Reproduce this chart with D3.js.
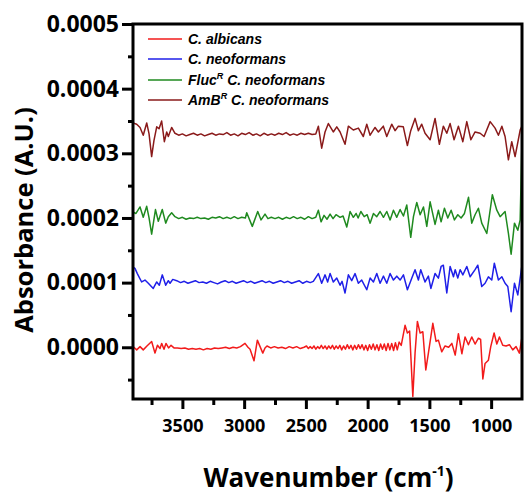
<!DOCTYPE html>
<html>
<head>
<meta charset="utf-8">
<script src="https://cdn.jsdelivr.net/npm/d3@7"></script>
<style>
  html, body { margin: 0; padding: 0; background: #fff; }
  svg { display: block; }
  text { font-family: "Open Sans", "DejaVu Sans", sans-serif; font-weight: bold; }
  .legend text { font-family: "Liberation Sans", Arial, sans-serif; }
</style>
</head>
<body>
<svg id="chart" width="526" height="495"></svg>
<script>
// FTIR difference spectra: wavenumber (cm^-1) and absorbance (A.U.)

const albicansWn = [3900,3870,3843,3817,3787,3749,3722,3702,3681,3668,3649,3633,3612,3592,3568,
  3540,3510,3480,3450,3420,3390,3360,3330,3300,3270,3240,3210,3180,3150,3120,3090,3060,3030,
  2993,2969,2952,2920,2893,2871,2849,2831,2815,
  2785,2755,2725,2695,2665,2635,2605,2575,2545,2515,
  2495,2480,2465,2450,2435,2420,2405,2390,2375,2360,2345,2330,2315,2300,2285,2270,2255,2240,2225,2210,
  2195,2180,2165,2150,2135,2120,2105,2090,2075,2060,2045,2030,2015,2000,1985,1970,1955,1940,1925,1910,
  1895,1880,1865,1850,1835,1820,1805,1790,1775,1760,1745,1728,
  1697,1678,1660,1634,1616,1597,1575,1553,1529,1508,1472,1446,1427,1400,1373,1344,1318,1291,1265,1237,
  1211,1184,1157,1130,1103,1085,1067,1049,1022,1003,976,954,933,906,879,852,825,798,771,750];
const albicansAbs = [0.01e-4,-0.04e-4,0.01e-4,-0.04e-4,0.02e-4,0.09e-4,-0.09e-4,0.03e-4,-0.02e-4,0.06e-4,-0.03e-4,0.06e-4,-0.01e-4,0.03e-4,-0.01e-4,
  -0.01e-4,-0.02e-4,-0.01e-4,-0.03e-4,-0.02e-4,-0.03e-4,-0.02e-4,-0.04e-4,-0.02e-4,-0.03e-4,-0.01e-4,-0.02e-4,-0.01e-4,0.00e-4,-0.02e-4,0.00e-4,-0.01e-4,0.01e-4,
  0.06e-4,0.00e-4,-0.03e-4,-0.21e-4,0.11e-4,0.01e-4,-0.09e-4,-0.01e-4,0.02e-4,
  -0.01e-4,0.01e-4,-0.01e-4,0.00e-4,-0.02e-4,0.01e-4,-0.01e-4,0.01e-4,-0.02e-4,0.00e-4,
  0.02e-4,-0.02e-4,0.01e-4,-0.02e-4,0.02e-4,-0.03e-4,0.01e-4,-0.02e-4,0.03e-4,-0.02e-4,0.02e-4,-0.03e-4,0.02e-4,-0.02e-4,0.03e-4,-0.03e-4,0.02e-4,-0.02e-4,0.03e-4,-0.04e-4,
  0.02e-4,-0.03e-4,0.04e-4,-0.02e-4,0.03e-4,-0.04e-4,0.03e-4,-0.03e-4,0.04e-4,-0.02e-4,0.04e-4,-0.04e-4,0.03e-4,-0.05e-4,0.04e-4,-0.03e-4,0.05e-4,-0.04e-4,0.04e-4,-0.05e-4,
  0.05e-4,-0.03e-4,0.05e-4,-0.05e-4,0.06e-4,-0.04e-4,0.06e-4,-0.05e-4,0.07e-4,-0.04e-4,0.08e-4,0.03e-4,
  0.34e-4,0.22e-4,0.25e-4,-0.76e-4,-0.09e-4,0.40e-4,0.22e-4,0.24e-4,-0.35e-4,-0.09e-4,0.37e-4,0.09e-4,0.11e-4,-0.07e-4,0.02e-4,0.00e-4,0.06e-4,-0.12e-4,0.21e-4,-0.10e-4,
  0.16e-4,0.04e-4,0.16e-4,0.05e-4,0.14e-4,0.12e-4,-0.49e-4,-0.25e-4,-0.20e-4,0.01e-4,0.22e-4,0.05e-4,0.16e-4,0.03e-4,0.02e-4,0.04e-4,-0.04e-4,0.01e-4,-0.09e-4,0.16e-4];

const neoformansWn = [3900,3884,3865,3830,3803,3776,3736,3708,3687,3663,3635,3614,3600,3578,3546,
  3515,3485,3455,3425,3395,3365,3335,3305,3275,3245,3215,3185,3155,3125,3095,3065,3035,3005,
  2975,2945,2915,2885,2855,2825,2795,2765,2735,2705,2675,2645,2615,2585,2555,2525,2495,2465,2440,
  2399,2372,2345,2324,2304,2278,2250,2223,2207,2183,2156,2129,2102,2075,2048,2007,1980,1953,1926,1899,
  1872,1845,1818,1791,1764,1737,1710,1678,1642,1616,1589,1570,1535,1508,1488,
  1454,1427,1405,1387,1359,1332,1305,1291,1270,1251,1229,1197,1170,1130,1108,1076,1049,1022,995,974,
  941,913,887,865,838,811,784,750];
const neoformansAbs = [1.24e-4,1.22e-4,1.14e-4,1.01e-4,1.04e-4,0.99e-4,0.91e-4,1.01e-4,0.96e-4,1.12e-4,0.96e-4,1.03e-4,0.99e-4,1.05e-4,1.03e-4,
  1.00e-4,1.02e-4,0.99e-4,1.01e-4,1.03e-4,1.00e-4,1.01e-4,0.99e-4,1.02e-4,1.00e-4,0.98e-4,1.01e-4,1.03e-4,1.00e-4,1.02e-4,0.99e-4,1.01e-4,1.03e-4,
  1.00e-4,1.02e-4,0.99e-4,1.01e-4,1.03e-4,1.00e-4,1.02e-4,0.99e-4,1.01e-4,1.03e-4,1.00e-4,1.02e-4,0.99e-4,1.01e-4,1.03e-4,0.99e-4,1.02e-4,1.00e-4,1.02e-4,
  1.14e-4,0.99e-4,1.12e-4,1.01e-4,1.14e-4,1.01e-4,1.07e-4,0.96e-4,1.02e-4,0.84e-4,1.12e-4,1.03e-4,1.14e-4,0.99e-4,1.04e-4,0.89e-4,1.07e-4,1.01e-4,1.14e-4,0.99e-4,
  1.10e-4,0.99e-4,1.14e-4,1.04e-4,1.10e-4,1.04e-4,1.12e-4,0.89e-4,1.07e-4,1.20e-4,1.04e-4,1.20e-4,1.01e-4,1.10e-4,0.91e-4,
  1.14e-4,1.07e-4,1.25e-4,1.27e-4,0.84e-4,1.25e-4,1.09e-4,1.20e-4,1.07e-4,1.20e-4,1.12e-4,1.25e-4,1.09e-4,1.20e-4,1.27e-4,0.94e-4,0.99e-4,1.09e-4,1.04e-4,1.30e-4,
  1.04e-4,1.09e-4,0.99e-4,0.94e-4,0.55e-4,0.99e-4,0.81e-4,1.27e-4];

const flucWn = [3900,3876,3843,3817,3789,3770,3749,3718,3695,3663,3635,3614,3587,3560,
  3530,3500,3470,3440,3410,3380,3350,3320,3290,3260,3230,3200,3170,3140,3110,3080,3050,3020,2990,
  2979,2934,2890,2863,2831,2807,
  2780,2750,2720,2690,2660,2630,2600,2570,2540,2510,2480,2450,2420,
  2399,2377,2353,2329,2304,2280,2256,2223,2199,2169,2142,2116,2093,2077,2055,2028,2004,1980,1953,1926,
  1899,1872,1845,1818,1791,1764,1737,1710,1683,1651,1629,1602,1575,1548,1521,1494,
  1454,1427,1405,1378,1351,1324,1297,1270,1243,1216,1183,1157,1130,1103,1076,1035,990,954,927,887,
  860,838,811,784,765,750];
const flucAbs = [2.09e-4,2.07e-4,2.17e-4,2.01e-4,2.18e-4,2.00e-4,1.75e-4,2.13e-4,1.95e-4,2.13e-4,1.92e-4,2.02e-4,2.08e-4,2.02e-4,
  1.99e-4,2.01e-4,1.98e-4,2.00e-4,1.99e-4,2.01e-4,1.99e-4,2.00e-4,1.98e-4,2.01e-4,2.00e-4,2.02e-4,1.99e-4,2.01e-4,1.99e-4,2.02e-4,1.99e-4,2.01e-4,2.00e-4,
  2.08e-4,1.87e-4,2.10e-4,1.97e-4,2.06e-4,1.99e-4,
  2.01e-4,1.99e-4,2.01e-4,1.98e-4,2.01e-4,1.99e-4,2.02e-4,1.99e-4,2.01e-4,1.98e-4,2.02e-4,1.99e-4,2.01e-4,
  2.12e-4,1.94e-4,2.04e-4,1.98e-4,2.06e-4,1.99e-4,2.05e-4,2.01e-4,2.03e-4,1.86e-4,2.10e-4,2.01e-4,2.07e-4,2.00e-4,2.10e-4,2.02e-4,2.05e-4,1.92e-4,2.07e-4,2.02e-4,
  2.10e-4,2.01e-4,2.10e-4,1.97e-4,2.12e-4,2.01e-4,2.13e-4,2.03e-4,2.20e-4,1.70e-4,2.02e-4,2.24e-4,2.05e-4,2.17e-4,1.87e-4,2.25e-4,
  1.90e-4,2.12e-4,1.94e-4,2.15e-4,2.00e-4,2.12e-4,1.97e-4,2.05e-4,2.00e-4,2.07e-4,2.32e-4,1.92e-4,2.05e-4,2.15e-4,1.92e-4,1.76e-4,2.36e-4,2.12e-4,2.02e-4,2.10e-4,
  1.76e-4,1.44e-4,1.92e-4,1.81e-4,1.97e-4,3.20e-4];

const ambWn = [3900,3870,3843,3817,3789,3770,3749,3730,3708,3689,3668,3646,3627,3614,3587,3560,
  3530,3500,3470,3440,3410,3380,3350,3320,3290,3260,3230,3200,3170,3140,3110,3080,3050,3020,2990,
  2960,2930,2900,2870,2840,2810,2780,2750,2720,2690,2660,2630,2600,2570,2540,2510,2480,2450,2420,
  2399,2372,2345,2318,2278,2250,2223,2183,2156,2116,2075,2035,2007,1980,1940,1913,1873,1845,1805,1778,
  1751,1711,1678,1651,1616,1589,1562,1535,1494,1454,1419,1387,1359,1332,1300,1265,1229,1197,1164,1130,
  1089,1057,1008,968,941,913,887,860,833,806,765,750];
const ambAbs = [3.47e-4,3.45e-4,3.40e-4,3.28e-4,3.47e-4,3.30e-4,2.95e-4,3.20e-4,3.41e-4,3.38e-4,3.50e-4,3.18e-4,3.33e-4,3.26e-4,3.40e-4,3.31e-4,
  3.28e-4,3.30e-4,3.27e-4,3.29e-4,3.31e-4,3.28e-4,3.30e-4,3.27e-4,3.29e-4,3.31e-4,3.28e-4,3.30e-4,3.29e-4,3.32e-4,3.28e-4,3.30e-4,3.27e-4,3.31e-4,3.29e-4,
  3.32e-4,3.28e-4,3.30e-4,3.27e-4,3.31e-4,3.28e-4,3.30e-4,3.28e-4,3.31e-4,3.29e-4,3.32e-4,3.28e-4,3.30e-4,3.28e-4,3.31e-4,3.29e-4,3.31e-4,3.29e-4,3.30e-4,
  3.42e-4,3.08e-4,3.33e-4,3.46e-4,3.33e-4,3.41e-4,3.33e-4,3.14e-4,3.42e-4,3.36e-4,3.39e-4,3.26e-4,3.45e-4,3.28e-4,3.40e-4,3.33e-4,3.42e-4,3.26e-4,3.45e-4,3.35e-4,
  3.42e-4,3.41e-4,3.12e-4,3.35e-4,3.54e-4,3.35e-4,3.45e-4,3.31e-4,3.21e-4,3.54e-4,3.14e-4,3.42e-4,3.31e-4,3.46e-4,3.21e-4,3.42e-4,3.18e-4,3.49e-4,3.21e-4,3.33e-4,
  3.31e-4,3.26e-4,3.49e-4,3.39e-4,3.28e-4,3.42e-4,3.26e-4,2.90e-4,3.18e-4,2.95e-4,3.36e-4,3.42e-4];

const seriesNames = ["C. albicans", "C. neoformans", "C. neoformans", "C. neoformans"];
const seriesPrefix = ["", "", "Fluc", "AmB"];
const seriesColors = ["#f21b1b", "#1f1fe8", "#1f8a1f", "#8a1a1a"];

const xMajorTicks = [3500, 3000, 2500, 2000, 1500, 1000];
const xMinorTicks = [3750, 3250, 2750, 2250, 1750, 1250];
const yMajorTicks = [0, 0.0001, 0.0002, 0.0003, 0.0004, 0.0005];
const yMinorTicks = [-0.00005, 0.00005, 0.00015, 0.00025, 0.00035, 0.00045];

const xTitle = "Wavenumber (cm";
const yTitle = "Absorbance (A.U.)";

// ---- layout
const plot = { left: 133, right: 522, top: 24, bottom: 399 };
const svg = d3.select("#chart");

const x = d3.scaleLinear().domain([3900, 750]).range([plot.left, plot.right]);
const y = d3.scaleLinear().domain([-0.00008, 0.0005]).range([plot.bottom, plot.top]);

const series = [
  d3.zip(albicansWn, albicansAbs),
  d3.zip(neoformansWn, neoformansAbs),
  d3.zip(flucWn, flucAbs),
  d3.zip(ambWn, ambAbs)
];

// clip traces to the frame
svg.append("clipPath").attr("id", "plotClip")
  .append("rect")
  .attr("x", plot.left).attr("y", plot.top)
  .attr("width", plot.right - plot.left).attr("height", plot.bottom - plot.top);

const line = d3.line().x(d => x(d[0])).y(d => y(d[1]));

const traces = svg.append("g").attr("clip-path", "url(#plotClip)");
series.forEach((pts, i) => {
  traces.append("path")
    .datum(pts)
    .attr("fill", "none")
    .attr("stroke", seriesColors[i])
    .attr("stroke-width", 1.5)
    .attr("stroke-linejoin", "round")
    .attr("d", line);
});

// ---- axes
const fmtY = d3.format(".4f");

const xAxis = svg.append("g")
  .attr("transform", `translate(0,${plot.bottom})`)
  .call(d3.axisBottom(x).tickValues(xMajorTicks).tickSize(10).tickPadding(10).tickFormat(d3.format("d")));
const xMinor = svg.append("g")
  .attr("transform", `translate(0,${plot.bottom})`)
  .call(d3.axisBottom(x).tickValues(xMinorTicks).tickSize(6).tickFormat(""));

const yAxis = svg.append("g")
  .attr("transform", `translate(${plot.left},0)`)
  .call(d3.axisLeft(y).tickValues(yMajorTicks).tickSize(11).tickPadding(3).tickFormat(fmtY));
const yMinor = svg.append("g")
  .attr("transform", `translate(${plot.left},0)`)
  .call(d3.axisLeft(y).tickValues(yMinorTicks).tickSize(5).tickFormat(""));

[xAxis, xMinor, yAxis, yMinor].forEach(g => {
  g.select(".domain").remove();
  g.selectAll(".tick line").attr("stroke", "#000").attr("stroke-width", 3);
});
xAxis.selectAll(".tick text").attr("fill", "#000").style("font-size", "18px");
yAxis.selectAll(".tick text").attr("fill", "#000").style("font-size", "23px");

// frame
svg.append("rect")
  .attr("x", plot.left).attr("y", plot.top)
  .attr("width", plot.right - plot.left).attr("height", plot.bottom - plot.top)
  .attr("fill", "none").attr("stroke", "#000").attr("stroke-width", 3);

// ---- axis titles
const xt = svg.append("text")
  .attr("x", (plot.left + plot.right) / 2 + 1).attr("y", 487)
  .attr("text-anchor", "middle")
  .style("font-size", "26px").attr("fill", "#000");
xt.append("tspan").text(xTitle);
xt.append("tspan").attr("dy", -11).style("font-size", "14px").text("-1");
xt.append("tspan").attr("dy", 11).text(")");

svg.append("text")
  .attr("transform", "translate(33,220) rotate(-90)")
  .attr("text-anchor", "middle")
  .style("font-size", "25.5px").attr("fill", "#000")
  .text(yTitle);

// ---- legend
const legend = svg.append("g").attr("class", "legend");
const legendY = [39, 59, 80, 100];
seriesNames.forEach((name, i) => {
  legend.append("line")
    .attr("x1", 148).attr("x2", 182)
    .attr("y1", legendY[i]).attr("y2", legendY[i])
    .attr("stroke", seriesColors[i]).attr("stroke-width", 1.5);
  const t = legend.append("text")
    .attr("x", 188).attr("y", legendY[i] + 5)
    .style("font-size", "14px").style("font-style", "italic").attr("fill", "#000");
  if (seriesPrefix[i]) {
    t.append("tspan").text(seriesPrefix[i]);
    t.append("tspan").attr("dy", -6).style("font-size", "9px").text("R");
    t.append("tspan").attr("dy", 6).text(" " + name);
  } else {
    t.text(name);
  }
});
</script>
</body>
</html>
